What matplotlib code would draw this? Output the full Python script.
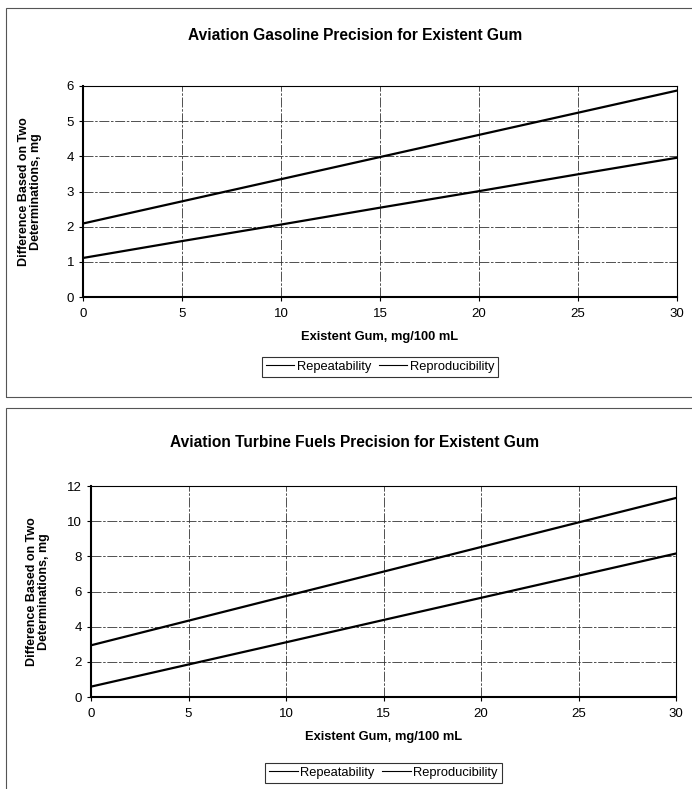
import numpy as np
import matplotlib.pyplot as plt
from matplotlib.patches import Rectangle

plt.rcParams['font.family'] = ['Liberation Sans', 'DejaVu Sans']

# values
gum = [0, 5, 10, 15, 20, 25, 30]
avgas_repeat = [1.11, 1.59, 2.06, 2.54, 3.01, 3.49, 3.96]
avgas_reprod = [2.09, 2.72, 3.35, 3.98, 4.61, 5.24, 5.87]
turb_repeat = [0.59, 1.85, 3.11, 4.38, 5.64, 6.90, 8.16]
turb_reprod = [2.94, 4.34, 5.74, 7.13, 8.53, 9.93, 11.32]

x_ticks = [0, 5, 10, 15, 20, 25, 30]
avgas_yticks = [0, 1, 2, 3, 4, 5, 6]
turb_yticks = [0, 2, 4, 6, 8, 10, 12]

W, H = 692, 789
fig = plt.figure(figsize=(W / 100, H / 100), dpi=100)


def fx(px):
    return px / W


def fy(py):
    return 1 - py / H


# panel frames
fig.patches.append(Rectangle((fx(6), fy(397)), fx(700), (389) / H, transform=fig.transFigure,
                             fill=False, edgecolor='#555555', linewidth=0.8))
fig.patches.append(Rectangle((fx(6), fy(800)), fx(700), (392) / H, transform=fig.transFigure,
                             fill=False, edgecolor='#555555', linewidth=0.8))


def panel(rect, title, title_y, repeat, reprod, yticks, ylab_x, leg_y):
    ax = fig.add_axes(rect)
    ax.plot(gum, reprod, color='black', linewidth=1.6)
    ax.plot(gum, repeat, color='black', linewidth=1.6)
    ax.set_xlim(0, 30)
    ax.set_ylim(yticks[0], yticks[-1])
    ax.set_xticks(x_ticks)
    ax.set_yticks(yticks)
    ax.grid(True, color='#333333', linewidth=0.6, linestyle=(0, (12, 2, 3, 2)))
    for s in ['left', 'bottom']:
        ax.spines[s].set_linewidth(1.5)
    for s in ['top', 'right']:
        ax.spines[s].set_linewidth(0.8)
    ax.tick_params(axis='both', labelsize=9.5, direction='out', length=3, width=0.8)
    ax.tick_params(axis='x', pad=5)
    ax.set_xlabel('Existent Gum, mg/100 mL', fontsize=9.3, fontweight='bold', labelpad=8)
    ax.set_ylabel('Difference Based on Two\nDeterminations, mg', fontsize=9,
                  fontweight='bold', linespacing=1.05)
    ax.yaxis.set_label_coords(ylab_x, 0.5)
    fig.text(0.513, title_y, title, ha='center', va='center', fontsize=11.2, fontweight='bold')
    ax.plot([], [], color='black', linewidth=0.8, label='Repeatability')
    ax.plot([], [], color='black', linewidth=0.8, label='Reproducibility')
    h, l = ax.get_legend_handles_labels()
    leg = ax.legend(h[-2:], l[-2:], loc='center', bbox_to_anchor=(0.5, leg_y), ncol=2,
                    fontsize=9.3, frameon=True, fancybox=False, handlelength=2.2,
                    handletextpad=0.2, columnspacing=0.6, borderpad=0.3)
    leg.get_frame().set_edgecolor('black')
    leg.get_frame().set_linewidth(0.8)
    return ax


panel([fx(83), fy(297), fx(677 - 83), (297 - 86) / H],
      'Aviation Gasoline Precision for Existent Gum', fy(35),
      avgas_repeat, avgas_reprod, avgas_yticks, -0.069, -0.33)

panel([fx(91), fy(697), fx(676 - 91), (697 - 486) / H],
      'Aviation Turbine Fuels Precision for Existent Gum', fy(442),
      turb_repeat, turb_reprod, turb_yticks, -0.07, -0.36)

fig.savefig('out.png', dpi=100)
